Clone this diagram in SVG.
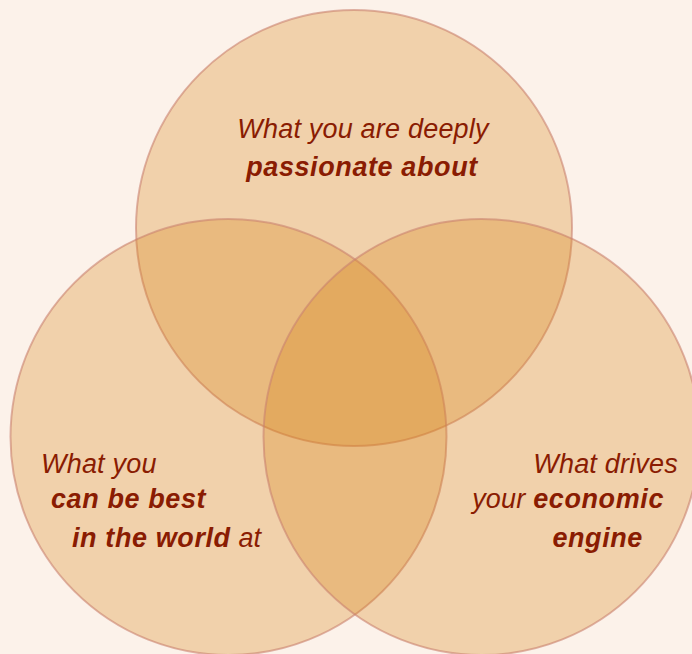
<svg xmlns="http://www.w3.org/2000/svg" width="692" height="654" viewBox="0 0 692 654">
  <style>
    .ring { fill: #d7841a; fill-opacity: 0.3; stroke: #c98270; stroke-opacity: 0.6; stroke-width: 2; }
    .label { font-family: "Liberation Sans", Arial, sans-serif; font-style: italic; font-size: 27px; fill: #8a1c02; letter-spacing: 0.2px; }
    .strong { font-weight: bold; letter-spacing: 0.6px; }
  </style>
  <rect width="692" height="654" fill="#fcf2ea"/>
  <g id="passion">
    <circle class="ring" cx="354" cy="228" r="218"/>
  </g>
  <g id="best">
    <circle class="ring" cx="228.5" cy="437" r="218"/>
  </g>
  <g id="economic">
    <circle class="ring" cx="481.5" cy="437" r="218"/>
  </g>
  <g id="labels">
    <text class="label" x="363" y="138" text-anchor="middle">What you are deeply</text>
    <text class="label strong" x="362" y="176" text-anchor="middle">passionate about</text>
    <text class="label" x="41" y="473">What you</text>
    <text class="label" x="51" y="508"><tspan class="strong">can be best</tspan></text>
    <text class="label" x="72" y="547"><tspan class="strong">in the world</tspan> at</text>
    <text class="label" x="678" y="473" text-anchor="end">What drives</text>
    <text class="label" x="664" y="508" text-anchor="end">your <tspan class="strong">economic</tspan></text>
    <text class="label strong" x="643" y="547" text-anchor="end">engine</text>
  </g>
</svg>
